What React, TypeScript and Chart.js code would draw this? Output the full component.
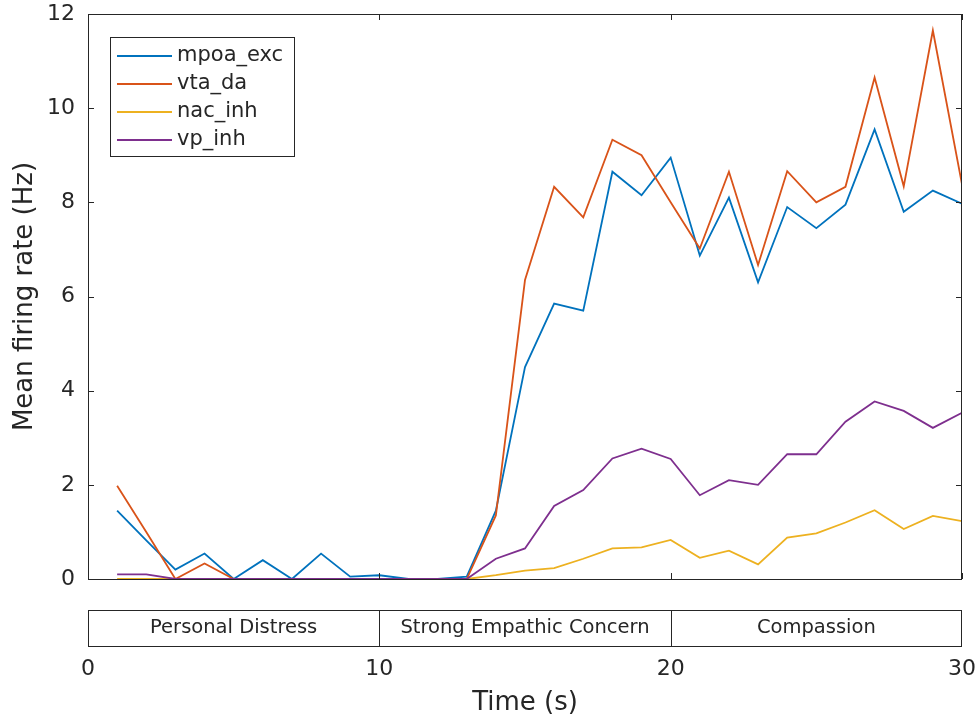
import { useEffect, useRef } from 'react';
import { Chart, registerables } from 'chart.js';

Chart.register(...registerables);

// ---- data ----
const timeSec = [1, 2, 3, 4, 5, 6, 7, 8, 9, 10, 11, 12, 13, 14, 15, 16, 17, 18, 19, 20, 21, 22, 23, 24, 25, 26, 27, 28, 29, 30];
const mpoaExc = [1.45, 0.82, 0.2, 0.54, 0, 0.4, 0, 0.54, 0.05, 0.08, 0, 0, 0.05, 1.45, 4.5, 5.85, 5.7, 8.65, 8.15, 8.95, 6.87, 8.1, 6.3, 7.9, 7.45, 7.95, 9.55, 7.8, 8.25, 7.97];
const vtaDa = [1.98, 1.0, 0, 0.33, 0, 0, 0, 0, 0, 0, 0, 0, 0, 1.35, 6.35, 8.33, 7.68, 9.33, 9.0, 8.0, 7.02, 8.65, 6.67, 8.66, 8.0, 8.33, 10.65, 8.34, 11.65, 8.38];
const nacInh = [0, 0, 0, 0, 0, 0, 0, 0, 0, 0, 0, 0, 0, 0.08, 0.18, 0.23, 0.43, 0.65, 0.67, 0.83, 0.45, 0.6, 0.31, 0.88, 0.97, 1.2, 1.46, 1.06, 1.34, 1.23];
const vpInh = [0.1, 0.1, 0, 0, 0, 0, 0, 0, 0, 0, 0, 0, 0, 0.43, 0.65, 1.55, 1.89, 2.56, 2.77, 2.55, 1.78, 2.1, 2.0, 2.65, 2.65, 3.34, 3.77, 3.57, 3.21, 3.53];

const seriesNames = ['mpoa_exc', 'vta_da', 'nac_inh', 'vp_inh'];
const seriesColors = ['#0072BD', '#D95319', '#EDB120', '#7E2F8E'];

const xTicks = [0, 10, 20, 30];
const yTicks = [0, 2, 4, 6, 8, 10, 12];

const phaseLabels = ['Personal Distress', 'Strong Empathic Concern', 'Compassion'];
const phaseEdges = [0, 10, 20, 30];

const xTitle = 'Time (s)';
const yTitle = 'Mean firing rate (Hz)';

// ---- style ----
const FONT = '"DejaVu Sans", "Liberation Sans", Arial, sans-serif';
const INK = '#262626';

const matlabPlugin = {
  id: 'matlabDecor',
  afterDraw(chart: any) {
    const { ctx, chartArea, scales } = chart;
    const xs = scales.x;
    const ys = scales.y;
    const L = Math.round(chartArea.left);
    const R = Math.round(chartArea.right);
    const T = Math.round(chartArea.top);
    const B = Math.round(chartArea.bottom);
    ctx.save();
    ctx.strokeStyle = INK;
    ctx.lineWidth = 1;
    // box
    ctx.strokeRect(L + 0.5, T + 0.5, R - L - 1, B - T);
    // inward ticks
    const tl = 6;
    ctx.beginPath();
    yTicks.forEach((v) => {
      const y = Math.round(ys.getPixelForValue(v)) + 0.5;
      ctx.moveTo(L, y); ctx.lineTo(L + tl, y);
      ctx.moveTo(R, y); ctx.lineTo(R - tl, y);
    });
    xTicks.forEach((v) => {
      const x = Math.round(xs.getPixelForValue(v)) + 0.5;
      ctx.moveTo(x, B); ctx.lineTo(x, B - tl);
      ctx.moveTo(x, T); ctx.lineTo(x, T + tl);
    });
    ctx.stroke();

    // phase strip
    const sTop = B + 31;
    const sH = 36;
    const x0 = Math.round(xs.getPixelForValue(phaseEdges[0]));
    const x1 = Math.round(xs.getPixelForValue(phaseEdges[phaseEdges.length - 1]));
    ctx.fillStyle = '#ffffff';
    ctx.fillRect(x0, sTop, x1 - x0, sH);
    ctx.strokeRect(x0 + 0.5, sTop + 0.5, x1 - x0 - 1, sH);
    ctx.beginPath();
    for (let i = 1; i < phaseEdges.length - 1; i++) {
      const x = Math.round(xs.getPixelForValue(phaseEdges[i])) + 0.5;
      ctx.moveTo(x, sTop); ctx.lineTo(x, sTop + sH);
    }
    ctx.stroke();
    ctx.fillStyle = INK;
    ctx.font = `19.5px ${FONT}`;
    ctx.textAlign = 'center';
    ctx.textBaseline = 'middle';
    phaseLabels.forEach((lab, i) => {
      const cx = (xs.getPixelForValue(phaseEdges[i]) + xs.getPixelForValue(phaseEdges[i + 1])) / 2;
      ctx.fillText(lab, cx, sTop + sH / 2);
    });

    // legend
    const lx = L + 22;
    const ly = T + 23;
    const lw = 184;
    const lh = 119;
    ctx.fillStyle = '#ffffff';
    ctx.fillRect(lx, ly, lw, lh);
    ctx.strokeStyle = INK;
    ctx.lineWidth = 1;
    ctx.strokeRect(lx + 0.5, ly + 0.5, lw, lh);
    ctx.font = `21px ${FONT}`;
    ctx.textAlign = 'left';
    ctx.textBaseline = 'middle';
    chart.data.datasets.forEach((ds: any, i: number) => {
      const ry = ly + 19 + i * 28;
      ctx.strokeStyle = ds.borderColor;
      ctx.lineWidth = 1.8;
      ctx.beginPath();
      ctx.moveTo(lx + 7, ry);
      ctx.lineTo(lx + 62, ry);
      ctx.stroke();
      ctx.fillStyle = INK;
      ctx.fillText(ds.label, lx + 67, ry);
    });
    ctx.restore();
  },
};

export default function App() {
  const ref = useRef<HTMLCanvasElement | null>(null);

  useEffect(() => {
    if (!ref.current) return;
    const seriesValues = [mpoaExc, vtaDa, nacInh, vpInh];
    const chart = new Chart(ref.current, {
      type: 'line',
      data: {
        datasets: seriesValues.map((vals, i) => ({
          label: seriesNames[i],
          data: timeSec.map((t, j) => ({ x: t, y: vals[j] })),
          borderColor: seriesColors[i],
          backgroundColor: seriesColors[i],
          borderWidth: 1.8,
          pointRadius: 0,
          tension: 0,
          fill: false,
          order: seriesValues.length - i,
        })),
      },
      options: {
        animation: false,
        responsive: true,
        maintainAspectRatio: false,
        layout: { padding: { left: 0, right: 17, top: 14, bottom: 0 } },
        plugins: { legend: { display: false }, tooltip: { enabled: false } },
        scales: {
          x: {
            type: 'linear',
            min: 0,
            max: 30,
            afterFit: (s: any) => { s.height = 142; s.paddingLeft = 0; s.paddingRight = 0; },
            afterBuildTicks: (s: any) => { s.ticks = xTicks.map((v) => ({ value: v })); },
            grid: { display: false, drawTicks: false },
            border: { display: false },
            ticks: { autoSkip: false, maxRotation: 0, padding: 77, color: INK, font: { family: FONT, size: 22 } },
            title: { display: true, text: xTitle, color: INK, font: { family: FONT, size: 26 }, padding: { top: 0, bottom: 2 } },
          },
          y: {
            type: 'linear',
            min: 0,
            max: 12,
            afterFit: (s: any) => { s.width = 88; s.paddingTop = 0; s.paddingBottom = 0; },
            afterBuildTicks: (s: any) => { s.ticks = yTicks.map((v) => ({ value: v })); },
            grid: { display: false, drawTicks: false },
            border: { display: false },
            ticks: { autoSkip: false, padding: 13, color: INK, font: { family: FONT, size: 22 } },
            title: { display: true, text: yTitle, color: INK, font: { family: FONT, size: 26 }, padding: { top: 10, bottom: 0 } },
          },
        },
      },
      plugins: [matlabPlugin],
    });
    return () => chart.destroy();
  }, []);

  return (
    <div style={{ position: 'absolute', left: 0, top: 0, width: 979, height: 721, background: '#ffffff' }}>
      <canvas ref={ref} />
    </div>
  );
}
